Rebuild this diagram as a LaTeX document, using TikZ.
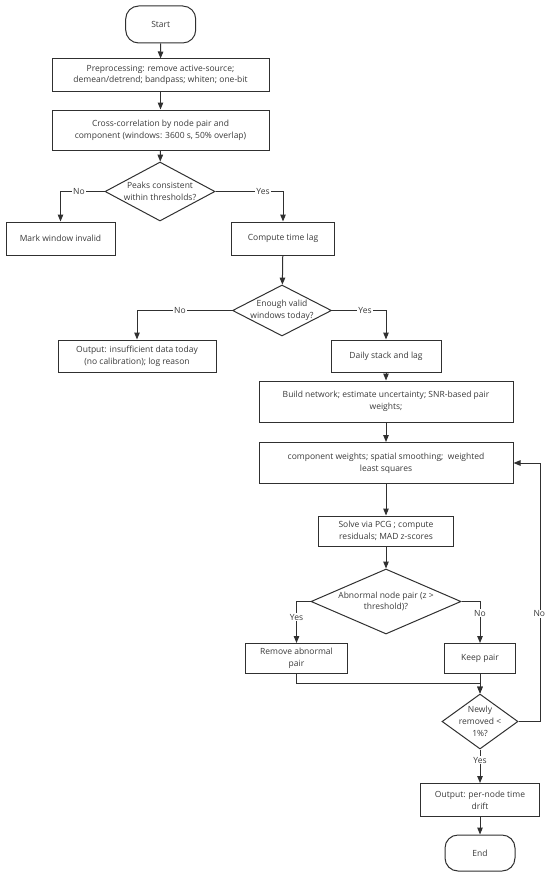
\documentclass[tikz,border=0pt]{standalone}
\usepackage{fontspec}
\setmainfont{Open Sans}
\usetikzlibrary{shapes.geometric,arrows.meta,calc}
\definecolor{ink}{HTML}{303030}
\definecolor{txt}{HTML}{3A3A3A}
\tikzset{
  box/.style={draw=ink,line width=1pt,rectangle,align=center,inner sep=1pt,text=txt,font=\fontsize{8.5}{11.8}\selectfont},
  term/.style={box,rounded corners=13pt},
  dec/.style={draw=ink,line width=1pt,diamond,inner sep=0pt},
  dtext/.style={align=center,text=txt,font=\fontsize{8.5}{11.8}\selectfont},
  arr/.style={draw=ink,line width=1pt,-{Triangle[length=7pt,width=5.5pt]}},
  lab/.style={fill=white,inner sep=1pt,text=txt,font=\fontsize{8.5}{11.8}\selectfont}
}
\begin{document}
\begin{tikzpicture}[x=1pt,y=-1pt]
\useasboundingbox[fill=white] (0,0) rectangle (550,875);
\node[term,minimum width=70pt,minimum height=37pt] (start) at (160.7,24.5) {Start};
\node[box,minimum width=217pt,minimum height=32pt] (pre) at (160.5,75) {Preprocessing: remove active-source;\\demean/detrend; bandpass; whiten; one-bit};
\node[box,minimum width=217pt,minimum height=40pt] (cc) at (160.5,130) {Cross-correlation by node pair and\\component (windows: 3600 s, 50\% overlap)};
\node[dec,minimum width=110pt,minimum height=59pt] (d1) at (160,191.5) {};
\node[dtext] at (d1.center) {Peaks consistent\\within thresholds?};
\node[box,minimum width=109pt,minimum height=33pt] (mark) at (60.5,238.5) {Mark window invalid};
\node[box,minimum width=103pt,minimum height=33pt] (comp) at (283,238.5) {Compute time lag};
\node[dec,minimum width=99pt,minimum height=51pt] (d2) at (282,310.5) {};
\node[dtext] at (d2.center) {Enough valid\\windows today?};
\node[box,minimum width=158pt,minimum height=32pt] (out1) at (137,356) {Output: insufficient data today\\(no calibration); log reason};
\node[box,minimum width=110pt,minimum height=32pt] (daily) at (386,356) {Daily stack and lag};
\node[box,minimum width=254pt,minimum height=41pt] (build) at (386,401.5) {Build network; estimate uncertainty; SNR-based pair\\weights;};
\node[box,minimum width=254pt,minimum height=41pt] (compw) at (386,463) {component weights; spatial smoothing;\ \ weighted\\least squares};
\node[box,minimum width=135pt,minimum height=30pt] (solve) at (386,531) {Solve via PCG ; compute\\residuals; MAD z-scores};
\node[dec,minimum width=150pt,minimum height=65pt] (d3) at (386,601.5) {};
\node[dtext] at (d3.center) {Abnormal node pair (z >\\threshold)?};
\node[box,minimum width=102pt,minimum height=30pt] (remove) at (296.5,658.5) {Remove abnormal\\pair};
\node[box,minimum width=71pt,minimum height=30pt] (keep) at (480,658.5) {Keep pair};
\node[dec,minimum width=76pt,minimum height=55pt] (d4) at (480,721.5) {};
\node[dtext] at (d4.center) {Newly\\removed <\\1\%?};
\node[box,minimum width=119pt,minimum height=33pt] (outp) at (480,800) {Output: per-node time\\drift};
\node[term,minimum width=70pt,minimum height=36pt] (end) at (480,853) {End};
% connectors
\draw[arr] (start) -- (pre);
\draw[arr] (pre) -- (cc);
\draw[arr] (cc) -- (d1);
\draw[arr] (d1.west) -| (mark.north);
\node[lab] at (79,191.5) {No};
\draw[arr] (d1.east) -| (comp.north);
\node[lab] at (263,191.5) {Yes};
\draw[arr] (comp) -- (d2);
\draw[arr] (d2.west) -| (out1.north);
\node[lab] at (180,310.5) {No};
\draw[arr] (d2.east) -| (daily.north);
\node[lab] at (365,310.5) {Yes};
\draw[arr] (daily) -- (build);
\draw[arr] (build) -- (compw);
\draw[arr] (compw) -- (solve);
\draw[arr] (solve) -- (d3);
\draw[arr] (d3.west) -| (remove.north);
\node[lab] at (296.5,617) {Yes};
\draw[arr] (d3.east) -| (keep.north);
\node[lab] at (480,613) {No};
\draw[arr] (remove.south) |- ($(keep.south)!0.5!(d4.north)$) -- (d4.north);
\draw[arr] (keep.south) -- (d4.north);
\draw[arr] (d4.east) -- ++(21.6,0) |- (compw.east);
\node[lab] at (539.3,614) {No};
\draw[arr] (d4.south) -- (outp.north);
\node[lab] at (480,760) {Yes};
\draw[arr] (outp) -- (end);
\end{tikzpicture}
\end{document}
